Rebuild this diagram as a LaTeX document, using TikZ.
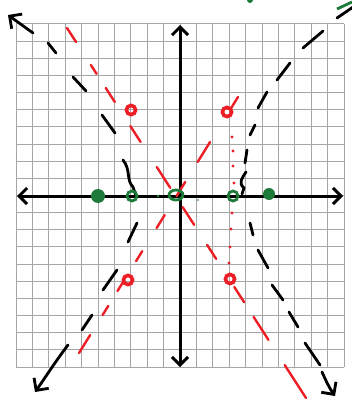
\documentclass[tikz,border=0pt]{standalone}
\usetikzlibrary{arrows.meta,calc}
\definecolor{sketchred}{RGB}{237,30,38}
\definecolor{sketchgreen}{RGB}{30,122,56}

\begin{document}
\begin{tikzpicture}[x=1pt,y=-1pt,
    gridline/.style={line width=1pt, color=black!35},
    axis/.style={line width=3pt, {Straight Barb[length=8pt,width=16pt]}-{Straight Barb[length=8pt,width=16pt]}},
    hyp/.style={line width=2.8pt, line cap=round, color=black},
    hyparrow/.style={hyp, -{Straight Barb[length=9pt,width=18pt]}},
    asym/.style={line width=2.4pt, line cap=round, color=sketchred},
    focus/.style={fill=sketchgreen},
    vertexpt/.style={draw=sketchgreen, line width=2.8pt}]
    \useasboundingbox (0,0) rectangle (352,403);
    \fill[white] (0,0) rectangle (352,403);
    % grid, 20 by 20
    \foreach \i in {0,...,20} {
        \draw[gridline] ({16+16.4*\i},24) -- ({16+16.4*\i},367);
        \draw[gridline] (16,{24+17.15*\i}) -- (344,{24+17.15*\i});
    }
    % axes
    \coordinate (O) at (180,196);
    \draw[axis] (17,196) -- (343,196);
    \draw[axis] (180,367) -- (180,25);
    % asymptotes (red dashes)
    \coordinate (a1s) at (67,28);
    \coordinate (a1e) at (306,398);
    \foreach \p/\q in {0/.038, .100/.124, .162/.200, .265/.308, .376/.432,
                       .484/.532, .586/.624, .700/.741, .781/.843, .911/1}
        \draw[asym] ($(a1s)!\p!(a1e)$) -- ($(a1s)!\q!(a1e)$);
    \coordinate (a2s) at (79,353);
    \coordinate (a2e) at (238,97);
    \foreach \p/\q in {0/.070, .148/.184, .242/.285, .359/.398, .488/.539,
                       .613/.668, .746/.824, .950/1}
        \draw[asym] ($(a2s)!\p!(a2e)$) -- ($(a2s)!\q!(a2e)$);
    % red points on the asymptotes
    \foreach \pt in {(131,110), (227,112), (128,280), (230,279)}
        \draw[asym, line width=3.6pt] \pt circle (4.6pt);
    % red dotted line
    \foreach \pt in {(232,137), (233,151), (233,166), (234,183),
                     (232,213), (231,229), (230,247), (229,263)}
        \fill[sketchred] \pt circle (1.6pt);
    % left branch
    \draw[hyparrow] (33,33) -- (8,15);
    \foreach \a/\b/\c/\d in {48/43/56/53, 73/77/86/91, 102/115/115/133,
                             137/223/128/242, 117/270/103/290, 92/315/82/330}
        \draw[hyp] (\a,\b) -- (\c,\d);
    \draw[hyp] (123,160) .. controls (131,170) and (126,180) .. (133,187) -- (136,196);
    \draw[hyparrow] (68,345) .. controls (55,362) and (45,378) .. (35,392);
    % right branch
    \draw[hyp] (337,18) -- (356,5);
    \foreach \a/\b/\c/\d in {303/48/323/31, 277/80/290/63, 258/108/267/92,
                             250/135/255/125, 245/163/247/150, 250/223/253/235,
                             258/250/268/268, 272/285/283/300, 289/312/298/327,
                             305/343/320/365}
        \draw[hyp] (\a,\b) -- (\c,\d);
    \draw[hyp] (246,172) .. controls (242,178) and (238,183) .. (244,188) -- (242,194);
    \draw[hyparrow] (322,372) .. controls (326,381) and (330,389) .. (335,396);
    % foci, vertices and centre (green)
    \fill[focus] (98,196) circle (7pt);
    \fill[focus] (269,194) circle (6pt);
    \draw[vertexpt] (132,196) circle (5pt);
    \draw[vertexpt] (233,196) circle (5pt);
    \draw[vertexpt] (176,195) ellipse [x radius=7pt, y radius=5pt];
    \fill[focus] (158,196) circle (1.3pt);
    \fill[focus] (198,200) circle (0.9pt);
    % marks cut at the top edge
    \fill[focus] (250,0) circle (3pt);
    \draw[vertexpt] (337,9) -- (352,2);
\end{tikzpicture}
\end{document}
